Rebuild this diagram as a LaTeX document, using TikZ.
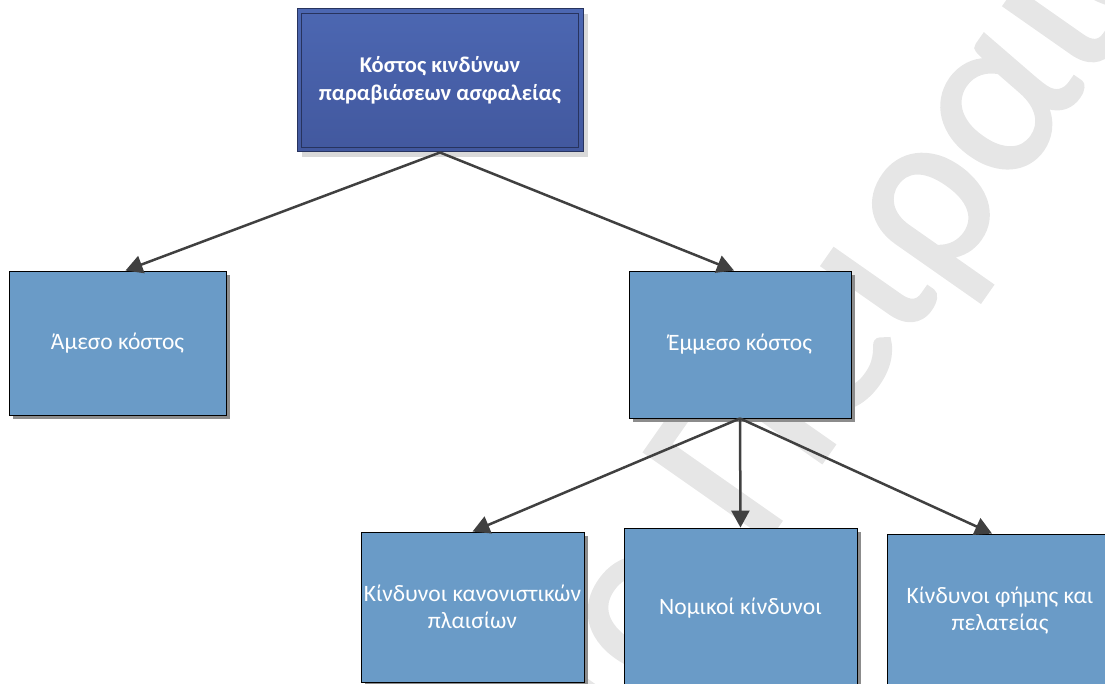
\documentclass[tikz,border=0pt]{standalone}
\usepackage{fontspec}
\setmainfont{Carlito}
\newfontfamily\markfont[FakeBold=1.5]{Carlito}
\usetikzlibrary{arrows.meta,shadows}

\definecolor{boxblue}{HTML}{6A9BC7}
\definecolor{titletop}{HTML}{4C67B2}
\definecolor{titlebot}{HTML}{42589E}
\definecolor{titleline}{HTML}{27335E}
\definecolor{linkgray}{HTML}{404040}
\definecolor{markgray}{HTML}{E6E6E6}

\tikzset{
  boxtext/.style={font=\fontsize{23.5}{27}\selectfont},
  box/.style={draw=black, line width=0.9pt, fill=boxblue, text=white,
    align=center, inner sep=0pt, boxtext,
    drop shadow={shadow xshift=4pt, shadow yshift=-4pt, fill=black!45, opacity=1}},
  titlebox/.style={draw=titleline, line width=1pt, top color=titletop,
    bottom color=titlebot, text=white, align=center, inner sep=0pt,
    font=\fontsize{22.5}{28}\selectfont\bfseries,
    drop shadow={shadow xshift=5pt, shadow yshift=-5pt, fill=black!15, opacity=1}},
  link/.style={draw=linkgray, line width=2.5pt,
    -{Triangle[length=17pt, width=18pt]}},
  watermark/.style={rotate=55, anchor=base, inner sep=0pt, text=markgray,
    font=\markfont\fontsize{235}{235}\selectfont}
}

\begin{document}
\begin{tikzpicture}[x=1pt, y=-1pt]
  \useasboundingbox (0,0) rectangle (1105,684);

  % background lettering, placed by its letter rho
  \begin{scope}
    \clip (0,0) rectangle (1105,684);
    \node[watermark] (mark) at (976,242) {\llap{Πανεπιστήμιο Πει}ρ\rlap{αιώς}};
  \end{scope}

  % boxes
  \node[titlebox, minimum width=286pt, minimum height=143pt] (top) at (440,80.5)
    {Κόστος κινδύνων\\παραβιάσεων ασφαλείας};
  \draw[titleline, line width=0.8pt]
    ([shift={(5pt,-5pt)}]top.north west) rectangle ([shift={(-5pt,5pt)}]top.south east);

  \node[box, minimum width=217pt, minimum height=144pt] (direct) at (117.5,343)
    {Άμεσο κόστος};
  \node[box, minimum width=222pt, minimum height=147pt] (indirect) at (740,344.5)
    {Έμμεσο κόστος};
  \node[box, minimum width=223pt, minimum height=150pt] (regul) at (472.5,607)
    {Κίνδυνοι κανονιστικών\\πλαισίων};
  \node[box, minimum width=233pt, minimum height=160pt] (legal) at (740.5,608)
    {Νομικοί κίνδυνοι};
  \node[box, minimum width=226pt, minimum height=154pt] (reput) at (1000,611)
    {Κίνδυνοι φήμης και\\πελατείας};

  % connectors
  \draw[link] (top.south) -- ([xshift=8pt]direct.north);
  \draw[link] (top.south) -- ([xshift=-6pt]indirect.north);
  \draw[link] (indirect.south) -- (regul.north);
  \draw[link] (indirect.south) -- (legal.north);
  \draw[link] (indirect.south) -- ([xshift=-8pt]reput.north);
\end{tikzpicture}
\end{document}
